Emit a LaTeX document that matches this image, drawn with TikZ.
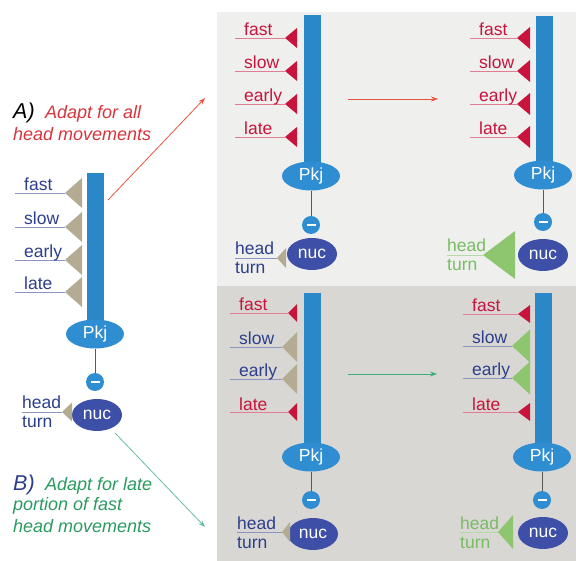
\documentclass[tikz,border=0pt]{standalone}
\usepackage{fontspec}
\setmainfont{Liberation Sans}
\usetikzlibrary{shapes.geometric,arrows.meta}
\definecolor{barblue}{HTML}{2A88C8}
\definecolor{pkjblue}{HTML}{2F8ED2}
\definecolor{nucblue}{HTML}{3D4FA6}
\definecolor{navy}{HTML}{2D3F8C}
\definecolor{crimson}{HTML}{C8143C}
\definecolor{tan}{HTML}{B3AB92}
\definecolor{ltgreen}{HTML}{8EC66F}
\definecolor{gtext}{HTML}{78BC64}
\definecolor{capgreen}{HTML}{2A9A60}
\definecolor{capred}{HTML}{D8343C}
\definecolor{panelA}{HTML}{EFEFED}
\definecolor{panelB}{HTML}{D8D7D3}
\definecolor{arrred}{HTML}{E8553E}
\definecolor{arrgreen}{HTML}{3CB07A}
\definecolor{arrteal}{HTML}{6ABBA8}

% input row: #1 name, #2 text, #3 line start x, #4 tip x, #5 y, #6 text colour, #7 triangle colour, #8 half height, #9 width
\newcommand\inrow[9]{%
  \coordinate (#1-s) at (#3,#5);
  \coordinate (#1-t) at (#4,#5);
  \draw[inline=#6] (#1-s) -- (#1-t);
  \fill[#7] (#1-t) -- ++(#9,-#8) -- ++(0,2*#8) -- cycle;
  \node[lab,text=#6,anchor=base west] (#1-l) at (#3+9,#5-2) {#2};
}
% head turn: #1 name, #2 line start x, #3 tip x, #4 y, #5 text colour, #6 tri colour, #7 half, #8 width
\newcommand\headturn[8]{%
  \coordinate (#1-s) at (#2,#4);
  \coordinate (#1-t) at (#3,#4);
  \draw[inline=#5] (#1-s) -- (#1-t);
  \fill[#6] (#1-t) -- ++(#8,-#7) -- ++(0,2*#7) -- cycle;
  \node[lab,text=#5,anchor=base west] (#1-h) at (#2,#4-3) {head};
  \node[lab,text=#5,anchor=base west] (#1-u) at (#2,#4+16) {turn};
}
% core: #1 name, #2 bar cx, #3 bar top, #4 pkj x, #5 pkj y, #6 minus x, #7 minus y, #8 nuc x, #9 nuc y
\newcommand\core[9]{%
  \fill[barblue] (#2-8.5,#3) rectangle (#2+8.5,#5);
  \node[pkj] (#1-pkj) at (#4,#5) {Pkj};
  \node[minus] (#1-m) at (#6,#7) {};
  \draw[white,line width=2] ([xshift=-4.5pt]#1-m.center) -- ([xshift=4.5pt]#1-m.center);
  \node[nuc] (#1-nuc) at (#8,#9) {nuc};
  \draw[gray!70!black,line width=0.7] (#1-pkj) -- (#1-m);
}

\begin{document}
\begin{tikzpicture}[x=1pt,y=-1pt,
  lab/.style={inner sep=0pt,font=\fontsize{17.5}{20}\selectfont},
  inline/.style={draw=#1!55,line width=0.7},
  pkj/.style={ellipse,fill=pkjblue,text=white,minimum width=58pt,minimum height=29pt,inner sep=0pt,font=\fontsize{17.5}{20}\selectfont},
  nuc/.style={ellipse,fill=nucblue,text=white,minimum width=50pt,minimum height=32pt,inner sep=0pt,font=\fontsize{17.5}{20}\selectfont},
  minus/.style={circle,fill=pkjblue,minimum size=18pt,inner sep=0pt},
  arr/.style={-{Stealth[length=7pt,width=5pt]},line width=0.8},
  captxt/.style={inner sep=0pt,anchor=base west,font=\fontsize{18}{22}\selectfont\itshape},
  capbig/.style={inner sep=0pt,anchor=base west,font=\fontsize{21.5}{26}\selectfont\itshape}]
\useasboundingbox (0,0) rectangle (576,561);
\fill[white] (0,0) rectangle (576,561);
\fill[panelA] (217,12) rectangle (576,286);
\fill[panelB] (217,286) rectangle (576,561);

% ---------- left diagram ----------
\core{L}{95.5}{173}{95}{334}{95}{382}{97}{415}
\inrow{L1}{fast}{15}{65}{193}{navy}{tan}{15}{17}
\inrow{L2}{slow}{15}{65}{227}{navy}{tan}{15}{17}
\inrow{L3}{early}{15}{65}{260}{navy}{tan}{15}{17}
\inrow{L4}{late}{15}{65}{292}{navy}{tan}{15}{17}
\headturn{LH}{22}{62}{412}{navy}{tan}{9.5}{10}

% ---------- top left ----------
\core{T}{312}{15}{311}{176}{311}{225}{312}{254}
\inrow{T1}{fast}{235}{285}{38}{crimson}{crimson}{10}{12}
\inrow{T2}{slow}{235}{285}{71}{crimson}{crimson}{10}{12}
\inrow{T3}{early}{235}{285}{104}{crimson}{crimson}{10}{12}
\inrow{T4}{late}{235}{285}{137}{crimson}{crimson}{10}{12}
\headturn{TH}{235}{277}{258}{navy}{tan}{10}{9}

% ---------- top right ----------
\core{U}{544}{16}{543}{175}{543}{222}{543}{255}
\inrow{U1}{fast}{470}{517}{38}{crimson}{crimson}{11}{13}
\inrow{U2}{slow}{470}{517}{71}{crimson}{crimson}{11}{13}
\inrow{U3}{early}{470}{517}{104}{crimson}{crimson}{11}{13}
\inrow{U4}{late}{470}{517}{137}{crimson}{crimson}{11}{13}
\headturn{UH}{447}{483}{255}{gtext}{ltgreen}{24}{32}

% ---------- bottom left ----------
\core{B}{312.5}{293}{311}{457}{311}{500}{313}{534}
\inrow{B1}{fast}{230}{288}{313}{crimson}{crimson}{9}{9}
\inrow{B2}{slow}{230}{282}{347}{navy}{tan}{15}{15}
\inrow{B3}{early}{230}{282}{379}{navy}{tan}{15}{15}
\inrow{B4}{late}{230}{288}{412}{crimson}{crimson}{9}{9}
\headturn{BH}{237}{282}{532}{navy}{tan}{10}{8}

% ---------- bottom right ----------
\core{C}{543.5}{293}{542}{457}{542}{500}{543}{533}
\inrow{C1}{fast}{463}{518}{314}{crimson}{crimson}{9}{12}
\inrow{C2}{slow}{463}{512}{346}{navy}{ltgreen}{16.5}{18}
\inrow{C3}{early}{463}{512}{378}{navy}{ltgreen}{16.5}{18}
\inrow{C4}{late}{463}{518}{412}{crimson}{crimson}{9}{12}
\headturn{CH}{460}{498}{532}{gtext}{ltgreen}{17}{15}

% ---------- arrows ----------
\coordinate (aS) at (108,200);
\coordinate (aE) at (205,98);
\draw[arr,arrred] (aS) -- (aE);
\coordinate (hS) at (348,99);
\coordinate (hE) at (438,99);
\draw[arr,arrred] (hS) -- (hE);
\coordinate (gS) at (348,374);
\coordinate (gE) at (437,374);
\draw[arr,arrgreen] (gS) -- (gE);
\coordinate (bS) at (115,433);
\coordinate (bE) at (205,527);
\draw[arr,arrteal] (bS) -- (bE);

% ---------- captions ----------
\node[capbig,text=black] (capA) at (13,119) {A)};
\node[captxt,text=capred] (capA1) at (45,119) {Adapt for all};
\node[captxt,text=capred] (capA2) at (13,141) {head movements};
\node[capbig,text=navy] (capB) at (13,490) {B)};
\node[captxt,text=capgreen] (capB1) at (45,490) {Adapt for late};
\node[captxt,text=capgreen] (capB2) at (13,510) {portion of fast};
\node[captxt,text=capgreen] (capB3) at (13,532) {head movements};
\end{tikzpicture}
\end{document}
